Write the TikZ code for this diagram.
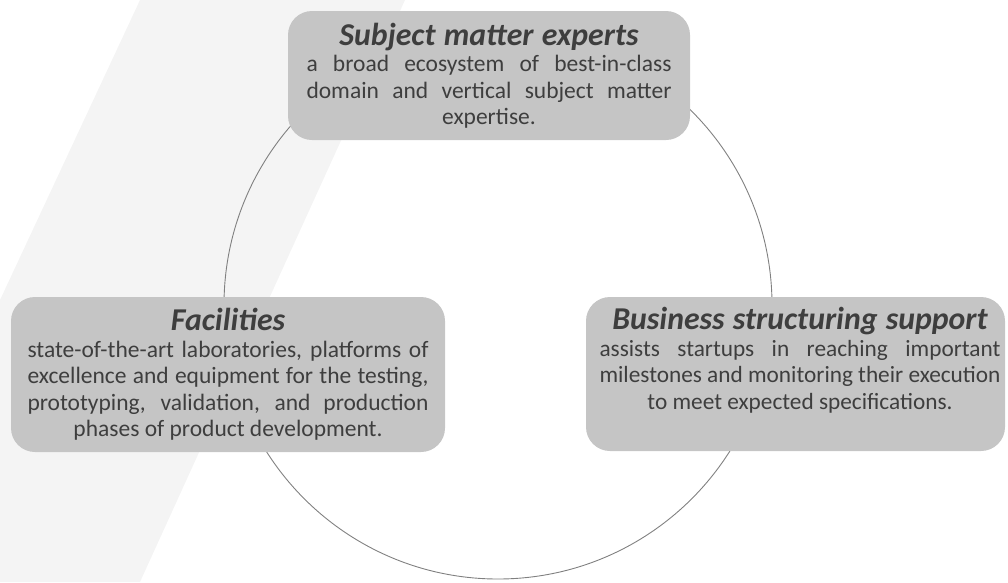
\documentclass[tikz,border=0pt]{standalone}
\usepackage{fontspec}
\setmainfont{Carlito}
\usepackage{tikz}
\usetikzlibrary{positioning}
\usepackage{xcolor}
\definecolor{cardgray}{RGB}{197,197,197}
\definecolor{inkgray}{RGB}{62,62,62}
\definecolor{ringgray}{RGB}{128,128,128}
\definecolor{stripegray}{RGB}{244,244,244}
\newcommand{\widthsubject}{365pt}
\newcommand{\widthfacil}{401pt}
\newcommand{\widthbusi}{401pt}
\newcommand{\fonthead}{\fontsize{31.8}{27}\selectfont\bfseries\itshape\spaceskip=0.26em}
\newcommand{\justlast}{\leftskip=0pt plus 1fil\rightskip=0pt plus -1fil\parfillskip=0pt plus 2fil%
    \spaceskip=\fontdimen2\font plus 3\fontdimen2\font minus 0.2\fontdimen2\font%
    \hyphenpenalty=10000\exhyphenpenalty=10000\tolerance=10000\hfuzz=30pt}
\newcommand{\cardtext}[3]{{\centering\fonthead #1\par}\fontsize{#2}{26.5}\selectfont\justlast #3\par}
\tikzset{
    common/.style={fill=cardgray, rounded corners=24pt, text=inkgray, inner sep=0pt},
    card/.style={common, text width=#1},
    ring/.style={draw=ringgray, line width=0.9pt},
    stripe/.style={fill=stripegray},
}
\begin{document}
\begin{tikzpicture}[x=1pt, y=-1pt]
    \useasboundingbox (0,0) rectangle (1008,582);
    \fill[stripe] (140,0) -- (405,0) -- (140,582) -- (0,582) -- (0,300) -- cycle;
    \coordinate (ring) at (498,305);
    \draw[ring] (ring) circle[radius=274];
    \path
        node[card=\widthsubject, minimum width=402pt, minimum height=129pt] (subj) at (489,75.5)
            {\cardtext{Subject matter experts}{23.5}{a broad ecosystem of best-in-class\linebreak domain and vertical subject matter\linebreak expertise.}}
        node[card=\widthfacil, minimum width=434pt, minimum height=155pt] (facil) at (228,374.5)
            {\cardtext{Facilities}{23.5}{state-of-the-art laboratories, platforms of\linebreak excellence and equipment for the testing,\linebreak prototyping, validation, and production\linebreak phases of product development.}}
        node[common, minimum width=419pt, minimum height=154pt] (busi) at (795.5,374) {}
        node[card=\widthbusi, fill=none, text depth=111pt, anchor=center] (busitext) at (800,374)
            {\cardtext{Business structuring support}{23.3}{assists startups in reaching important\linebreak milestones and monitoring their execution\linebreak to meet expected specifications.}};
\end{tikzpicture}
\end{document}
